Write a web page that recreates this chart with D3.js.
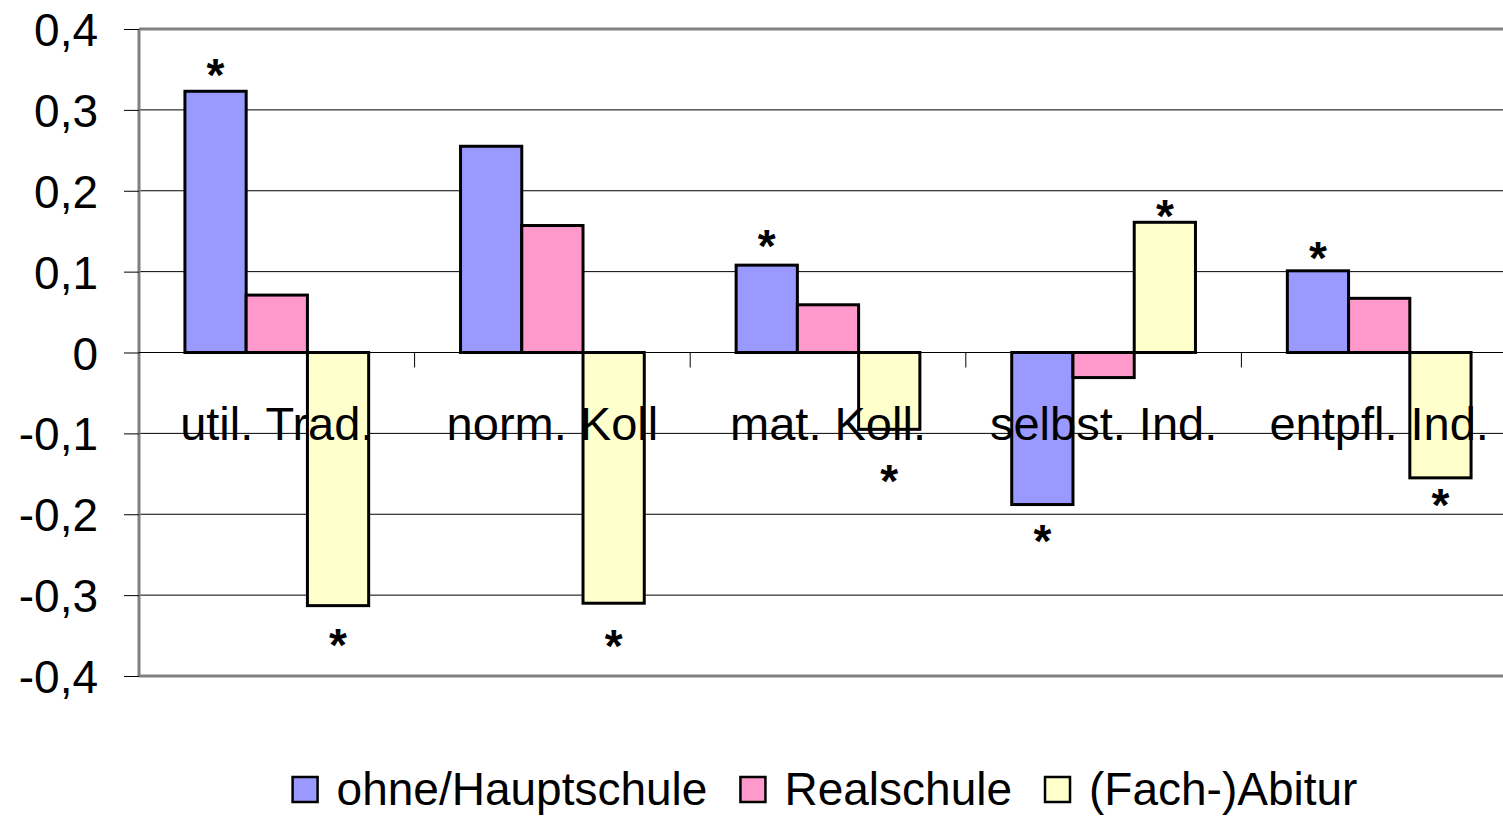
<!DOCTYPE html>
<html>
<head>
<meta charset="utf-8">
<script src="https://cdn.jsdelivr.net/npm/d3@7"></script>
<style>
  body { margin: 0; background: #fff; }
  text { font-family: Arial, "Liberation Sans", sans-serif; fill: #000; }
</style>
</head>
<body>
<div class="chart"></div>
<script>
// categories and series
var categories = ["util. Trad.", "norm. Koll", "mat. Koll.", "selbst. Ind.", "entpfl. Ind."];
var seriesNames = ["ohne/Hauptschule", "Realschule", "(Fach-)Abitur"];
var seriesColors = ["#9999ff", "#ff99cc", "#ffffcc"];

var hauptschule = [0.323, 0.255, 0.108, -0.188, 0.101];
var realschule = [0.071, 0.157, 0.059, -0.031, 0.067];
var abitur = [-0.313, -0.310, -0.095, 0.161, -0.155];

// significance marks (value where the * sits, null = none)
var starHaupt = [0.354, null, 0.143, -0.222, 0.128];
var starReal = [null, null, null, null, null];
var starAbi = [-0.350, -0.352, -0.148, 0.180, -0.178];

var yTicks = [-0.4, -0.3, -0.2, -0.1, 0, 0.1, 0.2, 0.3, 0.4];

var svgWidth = 1503;
var svgHeight = 816;

var plot = { left: 139, right: 1517, top: 29, bottom: 676 };

var svg = d3.select(".chart")
  .append("svg")
  .attr("width", svgWidth)
  .attr("height", svgHeight);

var x0 = d3.scaleBand()
  .domain(categories)
  .range([plot.left, plot.right])
  .padding(0);

var x1 = d3.scaleBand()
  .domain(seriesNames)
  .range([0, x0.bandwidth()])
  .paddingInner(0)
  .paddingOuter(0.75);

var y = d3.scaleLinear()
  .domain([-0.4, 0.4])
  .range([plot.bottom, plot.top]);

var fmt = function(d) { return d === 0 ? "0" : d3.format(".1f")(d).replace(".", ",").replace("−", "-"); };

// gridlines
svg.append("g")
  .selectAll("line")
  .data(yTicks.filter(d => d !== 0.4 && d !== -0.4))
  .enter()
  .append("line")
  .attr("x1", plot.left)
  .attr("x2", plot.right)
  .attr("y1", d => y(d))
  .attr("y2", d => y(d))
  .attr("stroke", "#000")
  .attr("stroke-width", 1);

// plot border (grey)
svg.append("line")
  .attr("x1", plot.left).attr("x2", plot.right)
  .attr("y1", y(0.4)).attr("y2", y(0.4))
  .attr("stroke", "#808080").attr("stroke-width", 3);
svg.append("line")
  .attr("x1", plot.left).attr("x2", plot.right)
  .attr("y1", y(-0.4)).attr("y2", y(-0.4))
  .attr("stroke", "#808080").attr("stroke-width", 3);
svg.append("line")
  .attr("x1", plot.left).attr("x2", plot.left)
  .attr("y1", y(0.4)).attr("y2", y(-0.4))
  .attr("stroke", "#808080").attr("stroke-width", 3);

// y axis
var leftAxis = d3.axisLeft(y)
  .tickValues(yTicks)
  .tickFormat(fmt)
  .tickSize(15)
  .tickPadding(26);

var yAxis = svg.append("g")
  .attr("transform", `translate(${plot.left}, 0)`)
  .call(leftAxis);
yAxis.select(".domain").remove();
yAxis.selectAll(".tick line").attr("stroke", "#000").attr("stroke-width", 1);
yAxis.selectAll(".tick text")
  .style("font-size", "46px")
  .attr("dy", "0.36em")
  .attr("fill", "#000");

// category ticks on the zero line
var catTicks = categories.slice(1);
svg.append("g")
  .selectAll("line")
  .data(catTicks)
  .enter()
  .append("line")
  .attr("x1", d => x0(d))
  .attr("x2", d => x0(d))
  .attr("y1", y(0))
  .attr("y2", y(0) + 15)
  .attr("stroke", "#000")
  .attr("stroke-width", 1);

// bars
var allSeries = [hauptschule, realschule, abitur];
var allStars = [starHaupt, starReal, starAbi];

var barData = [];
categories.forEach(function(c, i) {
  seriesNames.forEach(function(s, j) {
    barData.push({ cat: c, series: s, value: allSeries[j][i], star: allStars[j][i], color: seriesColors[j] });
  });
});

svg.append("g")
  .selectAll("rect")
  .data(barData)
  .enter()
  .append("rect")
  .attr("x", d => x0(d.cat) + x1(d.series))
  .attr("width", x1.bandwidth())
  .attr("y", d => y(Math.max(0, d.value)))
  .attr("height", d => Math.abs(y(d.value) - y(0)))
  .attr("fill", d => d.color)
  .attr("stroke", "#000")
  .attr("stroke-width", 3);

// zero line
svg.append("line")
  .attr("x1", plot.left)
  .attr("x2", plot.right)
  .attr("y1", y(0))
  .attr("y2", y(0))
  .attr("stroke", "#000")
  .attr("stroke-width", 1);

// stars
svg.append("g")
  .selectAll("text")
  .data(barData.filter(d => d.star !== null))
  .enter()
  .append("text")
  .attr("x", d => x0(d.cat) + x1(d.series) + x1.bandwidth() / 2)
  .attr("y", d => y(d.star) + 25)
  .attr("text-anchor", "middle")
  .style("font-size", "46px")
  .style("font-weight", "bold")
  .text("*");

// category labels
svg.append("g")
  .selectAll("text")
  .data(categories)
  .enter()
  .append("text")
  .attr("x", d => x0(d) + x0.bandwidth() / 2)
  .attr("y", y(0) + 87)
  .attr("text-anchor", "middle")
  .style("font-size", "47px")
  .text(d => d);

// legend
var legend = svg.append("g");
var items = legend.selectAll("g")
  .data(seriesNames)
  .enter()
  .append("g");

items.append("rect")
  .attr("width", 25)
  .attr("height", 25)
  .attr("y", -28)
  .attr("fill", (d, i) => seriesColors[i])
  .attr("stroke", "#000")
  .attr("stroke-width", 2.5);

items.append("text")
  .attr("x", 44)
  .attr("y", 0)
  .style("font-size", "46px")
  .text(d => d);

var xpos = 0;
items.each(function() {
  var g = d3.select(this);
  var w = g.select("text").node().getComputedTextLength();
  g.attr("transform", `translate(${xpos}, 0)`);
  xpos += 44 + w + 33;
});
var totalW = xpos - 33;
legend.attr("transform", `translate(${825 - totalW / 2}, 805)`);
</script>
</body>
</html>
